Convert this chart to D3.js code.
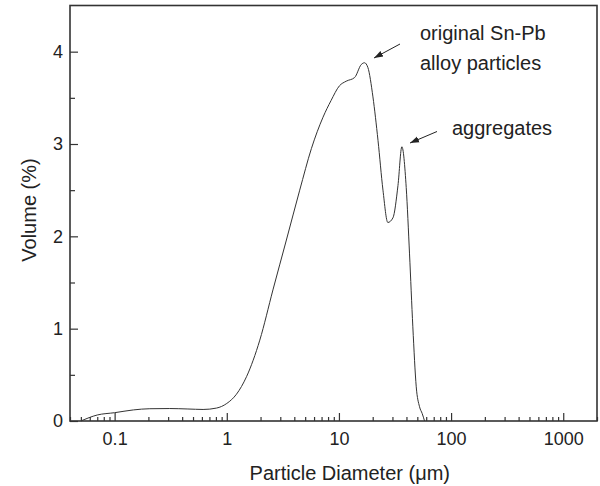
<!DOCTYPE html>
<html>
<head>
<meta charset="utf-8">
<script src="https://d3js.org/d3.v7.min.js"></script>
<style>
  body { margin: 0; background: #fff; }
  .frame text { font-family: Arial, "Liberation Sans", sans-serif; fill: #222; }
  .axis path { display: none; }
  .axis line { stroke: #333; stroke-width: 1.2; }
</style>
</head>
<body>
<div id="chart"></div>
<script>
// particle diameter (um) and volume (%)
const DIAMETER = [0.05, 0.07, 0.1, 0.147, 0.206, 0.31, 0.45, 0.615, 0.81, 1.0, 1.22, 1.5, 1.97, 2.58, 3.4, 4.47,
                  5.68, 7.21, 8.5, 10.1, 11.6, 13.8, 15.8, 16.9, 18.1, 20.1, 22.3, 24.7, 27.3, 30.3, 33.6, 36.4,
                  39.8, 42.6, 45.6, 48.9, 52.3, 55.3, 58];
const VOLUME = [0, 0.065, 0.09, 0.12, 0.133, 0.135, 0.13, 0.125, 0.14, 0.19, 0.29, 0.48, 0.876, 1.42, 1.96, 2.5,
                2.95, 3.29, 3.47, 3.63, 3.68, 3.72, 3.86, 3.88, 3.83, 3.51, 3.04, 2.5, 2.15, 2.2, 2.55, 2.97,
                2.53, 1.81, 1.02, 0.37, 0.155, 0.08, 0];

const X_TICKS = [0.1, 1, 10, 100, 1000];
const X_TICK_LABELS = ["0.1", "1", "10", "100", "1000"];
const Y_TICKS = [0, 1, 2, 3, 4];
const Y_MINOR = [0.5, 1.5, 2.5, 3.5];

const FRAME_WIDTH = 600;
const FRAME_HEIGHT = 486;
const MARGINS = {left: 70, right: 3, top: 5.5, bottom: 65};
const VIS_WIDTH = FRAME_WIDTH - MARGINS.left - MARGINS.right;
const VIS_HEIGHT = FRAME_HEIGHT - MARGINS.top - MARGINS.bottom;

const FRAME = d3.select("#chart")
                .append("svg")
                  .attr("width", FRAME_WIDTH)
                  .attr("height", FRAME_HEIGHT)
                  .attr("class", "frame");

const X_SCALE = d3.scaleLog().domain([0.04, 2000]).range([0, VIS_WIDTH]);
const Y_SCALE = d3.scaleLinear().domain([0, 4.5]).range([VIS_HEIGHT, 0]);

// minor ticks on the log axis: 2..9 of every decade
let xMinor = [];
for (let p = -2; p <= 3; p++) {
  for (let m = 2; m <= 9; m++) {
    let v = m * Math.pow(10, p);
    if (v >= 0.04 && v <= 2000) xMinor.push(+v.toPrecision(3));
  }
}

const G = FRAME.append("g")
               .attr("transform", "translate(" + MARGINS.left + "," + MARGINS.top + ")");

// x axis, ticks point into the plot
G.append("g")
  .attr("class", "axis")
  .attr("transform", "translate(0," + VIS_HEIGHT + ")")
  .call(d3.axisBottom(X_SCALE).tickValues(xMinor).tickSize(-4).tickFormat(""));

G.append("g")
  .attr("class", "axis")
  .attr("transform", "translate(0," + VIS_HEIGHT + ")")
  .call(d3.axisBottom(X_SCALE).tickValues(X_TICKS).tickSize(-8).tickPadding(11)
          .tickFormat((d, i) => X_TICK_LABELS[i]))
  .selectAll("text").attr("font-size", "18px");

// y axis
G.append("g")
  .attr("class", "axis")
  .call(d3.axisLeft(Y_SCALE).tickValues(Y_MINOR).tickSize(-5).tickFormat(""));

G.append("g")
  .attr("class", "axis")
  .call(d3.axisLeft(Y_SCALE).tickValues(Y_TICKS).tickSize(-8).tickPadding(7).tickFormat(d3.format("d")))
  .selectAll("text").attr("font-size", "18px");

// plot box
G.append("rect")
  .attr("width", VIS_WIDTH)
  .attr("height", VIS_HEIGHT)
  .attr("fill", "none")
  .attr("stroke", "#333")
  .attr("stroke-width", 1.6);

// the curve
const line = d3.line()
               .x((d, i) => X_SCALE(DIAMETER[i]))
               .y((d) => Y_SCALE(d))
               .curve(d3.curveMonotoneX);

G.append("path")
  .datum(VOLUME)
  .attr("d", line)
  .attr("fill", "none")
  .attr("stroke", "#333")
  .attr("stroke-width", 1);

// axis titles
FRAME.append("text")
  .attr("x", MARGINS.left + X_SCALE(12.5))
  .attr("y", 480)
  .attr("text-anchor", "middle")
  .attr("font-size", "20px")
  .text("Particle Diameter (\u03bcm)");

FRAME.append("text")
  .attr("transform", "translate(36,210) rotate(-90)")
  .attr("text-anchor", "middle")
  .attr("font-size", "20px")
  .text("Volume (%)");

// annotations with arrows
FRAME.append("defs").append("marker")
  .attr("id", "head")
  .attr("viewBox", "0 0 10 10")
  .attr("refX", 10).attr("refY", 5)
  .attr("markerWidth", 9).attr("markerHeight", 9)
  .attr("markerUnits", "userSpaceOnUse")
  .attr("orient", "auto")
  .append("path")
    .attr("d", "M0,1.5 L10,5 L0,8.5 Z")
    .attr("fill", "#222");

FRAME.append("line")
  .attr("x1", 400).attr("y1", 44).attr("x2", 374).attr("y2", 58)
  .attr("stroke", "#222").attr("stroke-width", 1)
  .attr("marker-end", "url(#head)");

FRAME.append("line")
  .attr("x1", 437).attr("y1", 131.5).attr("x2", 410).attr("y2", 143)
  .attr("stroke", "#222").attr("stroke-width", 1)
  .attr("marker-end", "url(#head)");

FRAME.append("text").attr("x", 420).attr("y", 40).attr("font-size", "20px").text("original Sn-Pb");
FRAME.append("text").attr("x", 420).attr("y", 70).attr("font-size", "20px").text("alloy particles");
FRAME.append("text").attr("x", 452).attr("y", 135).attr("font-size", "20px").text("aggregates");
</script>
</body>
</html>
